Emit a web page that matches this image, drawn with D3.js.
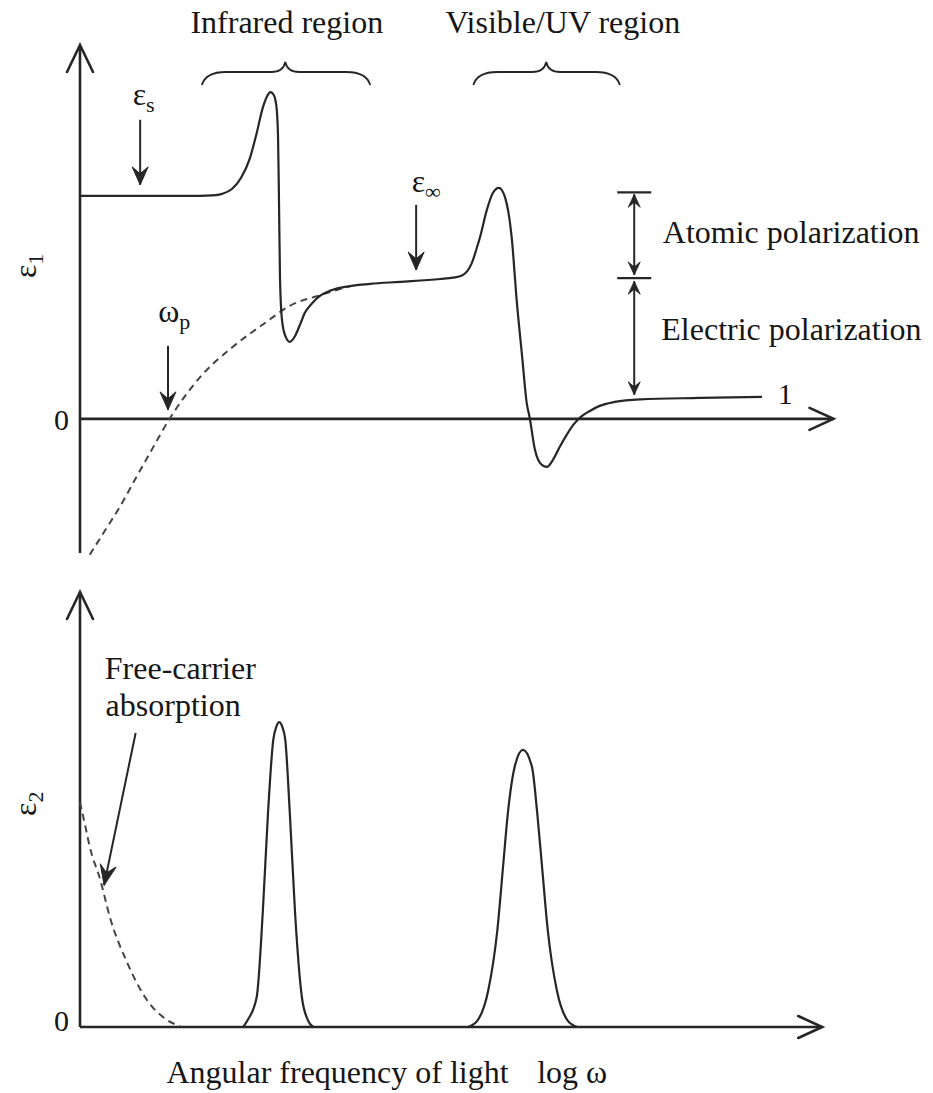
<!DOCTYPE html>
<html><head><meta charset="utf-8">
<script src="https://cdn.jsdelivr.net/npm/d3@7"></script>
<style>
body{margin:0;background:#fff}
svg{display:block}
text{font-family:"Liberation Serif","Times New Roman",serif;fill:#161616}
</style>
</head><body>
<svg id="c" width="933" height="1093"></svg>
<script>
// ---------- data (schematic, arbitrary units) ----------
const logOmegaDomain = [0, 10];
const eps1Domain = [-6.1, 17];
const eps2Domain = [0, 10];

// epsilon_1 (solid), [log omega, eps1]
const eps1Curve = [[0,10.14],[1.60,10.14],[1.76,10.16],[1.89,10.23],[2.02,10.45],[2.14,10.95],[2.26,11.86],[2.35,13.00],[2.43,14.14],[2.49,14.68],[2.53,14.86],[2.57,14.77],[2.61,14.27],[2.633,12.91],[2.646,9.95],[2.66,6.32],[2.686,4.50],[2.73,3.77],[2.79,3.50],[2.86,3.77],[2.93,4.32],[2.99,4.82],[3.09,5.27],[3.19,5.59],[3.32,5.82],[3.52,6.00],[3.86,6.14],[4.26,6.23],[4.79,6.36],[4.96,6.42],[5.08,6.52],[5.15,6.72],[5.21,7.08],[5.27,7.70],[5.32,8.27],[5.41,9.50],[5.49,10.27],[5.57,10.50],[5.65,10.09],[5.74,8.27],[5.81,5.27],[5.88,2.82],[5.94,0.73],[5.98,0.05],[6.05,-1.41],[6.14,-2.09],[6.21,-2.18],[6.29,-1.86],[6.38,-1.27],[6.48,-0.68],[6.57,-0.23],[6.66,0.09],[6.78,0.36],[6.91,0.59],[7.11,0.77],[7.45,0.89],[8.24,0.95],[9.07,1.00]];
// epsilon_1 free-carrier (dashed)
const eps1FreeCarrier = [[0.13,-6.18],[0.33,-5.09],[0.53,-4.00],[0.73,-2.77],[0.93,-1.55],[1.20,0.05],[1.60,1.91],[2.03,3.27],[2.46,4.36],[2.79,5.14],[3.19,5.62],[3.59,6.03]];
// epsilon_2
const eps2FreeCarrier = [[0,5.17],[0.07,4.62],[0.13,4.14],[0.27,3.38],[0.40,2.51],[0.63,1.47],[0.89,0.62],[1.16,0.16],[1.33,0.02]];
const eps2InfraredPeak = [[2.17,0],[2.23,0.16],[2.35,0.69],[2.43,2.62],[2.50,4.92],[2.57,6.60],[2.61,6.90],[2.65,7.01],[2.69,6.90],[2.73,6.60],[2.79,4.92],[2.86,2.62],[2.95,0.69],[3.03,0.16],[3.10,0]];
const eps2VisiblePeak = [[5.16,0],[5.29,0.16],[5.43,0.85],[5.55,2.23],[5.63,3.77],[5.69,4.92],[5.78,5.98],[5.89,6.37],[6.01,5.98],[6.08,4.92],[6.14,3.77],[6.22,2.23],[6.34,0.85],[6.48,0.16],[6.61,0]];

// levels
const epsStatic = 10.3, epsInfinity = 6.4, epsOne = 1.05;
// region braces
const regionLabels = ["Infrared region", "Visible/UV region"];
const regionStart = [1.62, 5.23];
const regionEnd = [3.86, 7.18];
const regionCentre = [2.73, 6.20];
const regionLabelCentre = [2.75, 6.42];

// ---------- scales ----------
const svg = d3.select("#c");
const x = d3.scaleLinear().domain(logOmegaDomain).range([80, 832]);
const yTop = d3.scaleLinear().domain(eps1Domain).range([553, 45]);
const yBot = d3.scaleLinear().domain(eps2Domain).range([1027, 592]);

const ink = "#262626";

function stealth(g, x1, y1, x2, y2, len, half, w) {
  g.append("line").attr("x1", x1).attr("y1", y1).attr("x2", x2).attr("y2", y2)
    .attr("stroke", ink).attr("stroke-width", w || 2);
  const a = Math.atan2(y2 - y1, x2 - x1) * 180 / Math.PI;
  g.append("path")
    .attr("d", `M0,0 L${-len},${-half} L${-len * 0.62},0 L${-len},${half} Z`)
    .attr("transform", `translate(${x2},${y2}) rotate(${a})`)
    .attr("fill", ink).attr("stroke", ink).attr("stroke-width", 1).attr("stroke-linejoin", "round");
}
function openHead(g, x2, y2, angle, len, half) {
  g.append("path")
    .attr("d", `M${-len},${-half} L0,0 L${-len},${half}`)
    .attr("transform", `translate(${x2},${y2}) rotate(${angle})`)
    .attr("fill", "none").attr("stroke", ink).attr("stroke-width", 2.6)
    .attr("stroke-linecap", "round").attr("stroke-linejoin", "miter");
}

// ---------- top panel ----------
const gTop = svg.append("g");
gTop.append("line").attr("x1", x(0)).attr("x2", x(0)).attr("y1", yTop(eps1Domain[0])).attr("y2", yTop(eps1Domain[1]) + 1)
  .attr("stroke", ink).attr("stroke-width", 2.6);
openHead(gTop, x(0), yTop(eps1Domain[1]), -90, 27, 13);
gTop.append("line").attr("x1", x(0)).attr("x2", x(10.02)).attr("y1", yTop(0)).attr("y2", yTop(0))
  .attr("stroke", ink).attr("stroke-width", 2.6);
openHead(gTop, x(10.02), yTop(0), 0, 24, 11);

const yAxisTop = gTop.append("g").attr("transform", `translate(${x(0)},0)`)
  .call(d3.axisLeft(yTop).tickValues([0]).tickSize(0).tickPadding(11).tickFormat(d3.format("d")));
yAxisTop.select(".domain").remove();
yAxisTop.selectAll("text").attr("font-size", 30).attr("font-family", "Liberation Serif").attr("fill", "#161616").attr("dy", "0.34em");

const line = d3.line().x(d => x(d[0])).curve(d3.curveMonotoneX);
gTop.append("path").datum(eps1FreeCarrier)
  .attr("d", line.y(d => yTop(d[1])))
  .attr("fill", "none").attr("stroke", "#444").attr("stroke-width", 2).attr("stroke-dasharray", "7,5");
gTop.append("path").datum(eps1Curve)
  .attr("d", line.y(d => yTop(d[1])))
  .attr("fill", "none").attr("stroke", ink).attr("stroke-width", 2.2);

const l1 = gTop.append("text").attr("transform", `translate(36,${yTop(6.4)}) rotate(-90)`).attr("font-size", 32);
l1.append("tspan").text("ε");
l1.append("tspan").attr("font-size", 22).attr("dy", 7).text("1");

const es = gTop.append("text").attr("x", x(0.70)).attr("y", yTop(14.27)).attr("font-size", 32);
es.append("tspan").text("ε");
es.append("tspan").attr("font-size", 22).attr("dy", 7).text("s");
stealth(gTop, x(0.80), yTop(13.6), x(0.80), yTop(10.64), 18, 8);

const ei = gTop.append("text").attr("x", x(4.41)).attr("y", yTop(10.32)).attr("font-size", 32);
ei.append("tspan").text("ε");
ei.append("tspan").attr("font-size", 22).attr("dy", 7).text("∞");
stealth(gTop, x(4.47), yTop(9.73), x(4.47), yTop(6.77), 18, 8);

const wp = gTop.append("text").attr("x", x(1.04)).attr("y", yTop(4.41)).attr("font-size", 32);
wp.append("tspan").text("ω");
wp.append("tspan").attr("font-size", 22).attr("dy", 7).text("p");
stealth(gTop, x(1.17), yTop(3.32), x(1.17), yTop(0.41), 18, 8);

gTop.append("text").attr("x", x(9.28)).attr("y", yTop(0.68)).attr("font-size", 30).text("1");

regionLabels.forEach((lab, i) => {
  const x0 = x(regionStart[i]), x1 = x(regionEnd[i]), xc = x(regionCentre[i]);
  const yE = 85, yH = 72, yT = 62;
  gTop.append("path")
    .attr("d", `M${x0},${yE} Q${x0 + 4},${yH} ${x0 + 24},${yH} L${xc - 14},${yH} Q${xc - 2},${yH} ${xc},${yT} Q${xc + 2},${yH} ${xc + 14},${yH} L${x1 - 24},${yH} Q${x1 - 4},${yH} ${x1},${yE}`)
    .attr("fill", "none").attr("stroke", ink).attr("stroke-width", 1.8);
  gTop.append("text").attr("x", x(regionLabelCentre[i])).attr("y", yTop(17.55))
    .attr("text-anchor", "middle").attr("font-size", 32).text(lab);
});

const bx = x(7.37);
[epsStatic, epsInfinity].forEach(v => {
  gTop.append("line").attr("x1", bx - 17).attr("x2", bx + 17).attr("y1", yTop(v)).attr("y2", yTop(v))
    .attr("stroke", ink).attr("stroke-width", 2.2);
});
function dbl(v0, v1) {
  const ya = yTop(v0) + 2, yb = yTop(v1) - 1;
  gTop.append("line").attr("x1", bx).attr("x2", bx).attr("y1", ya).attr("y2", yb).attr("stroke", ink).attr("stroke-width", 2);
  [[ya, -90], [yb, 90]].forEach(([yy, ang]) => {
    gTop.append("path").attr("d", "M0,0 L-13,-6 L-8,0 L-13,6 Z")
      .attr("transform", `translate(${bx},${yy}) rotate(${ang})`).attr("fill", ink).attr("stroke", ink).attr("stroke-width", 0.8);
  });
}
dbl(epsStatic, epsInfinity + 0.1);
dbl(epsInfinity - 0.05, epsOne);
gTop.append("text").attr("x", x(7.75)).attr("y", yTop(8.0)).attr("font-size", 32).text("Atomic polarization");
gTop.append("text").attr("x", x(7.73)).attr("y", yTop(3.59)).attr("font-size", 32).text("Electric polarization");

// ---------- bottom panel ----------
const gBot = svg.append("g");
gBot.append("line").attr("x1", x(0)).attr("x2", x(0)).attr("y1", yBot(0)).attr("y2", yBot(eps2Domain[1]) + 1)
  .attr("stroke", ink).attr("stroke-width", 2.6);
openHead(gBot, x(0), yBot(eps2Domain[1]), -90, 27, 13);
gBot.append("line").attr("x1", x(0)).attr("x2", x(9.87)).attr("y1", yBot(0)).attr("y2", yBot(0))
  .attr("stroke", ink).attr("stroke-width", 2.6);
openHead(gBot, x(9.87), yBot(0), 0, 24, 11);

const yAxisBot = gBot.append("g").attr("transform", `translate(${x(0)},0)`)
  .call(d3.axisLeft(yBot).tickValues([0]).tickSize(0).tickPadding(11).tickFormat(d3.format("d")));
yAxisBot.select(".domain").remove();
yAxisBot.selectAll("text").attr("font-size", 30).attr("font-family", "Liberation Serif").attr("fill", "#161616").attr("dy", "0.1em");

gBot.append("path").datum(eps2FreeCarrier)
  .attr("d", line.y(d => yBot(d[1])))
  .attr("fill", "none").attr("stroke", "#444").attr("stroke-width", 2).attr("stroke-dasharray", "7,5");
[eps2InfraredPeak, eps2VisiblePeak].forEach(pk => {
  gBot.append("path").datum(pk)
    .attr("d", line.y(d => yBot(d[1])))
    .attr("fill", "none").attr("stroke", ink).attr("stroke-width", 2.2);
});

const l2 = gBot.append("text").attr("transform", `translate(36,${yBot(4.85)}) rotate(-90)`).attr("font-size", 32);
l2.append("tspan").text("ε");
l2.append("tspan").attr("font-size", 22).attr("dy", 7).text("2");

gBot.append("text").attr("x", x(0.33)).attr("y", yBot(8.0)).attr("font-size", 32).text("Free-carrier");
gBot.append("text").attr("x", x(0.34)).attr("y", yBot(7.15)).attr("font-size", 32).text("absorption");
stealth(gBot, x(0.74), yBot(6.76), x(0.32), yBot(3.26), 20, 8);

const xl = gBot.append("text").attr("y", 1083).attr("font-size", 32);
xl.append("tspan").attr("x", x(1.15)).text("Angular frequency of light");
xl.append("tspan").attr("x", x(6.08)).text("log ω");
</script>
</body></html>
